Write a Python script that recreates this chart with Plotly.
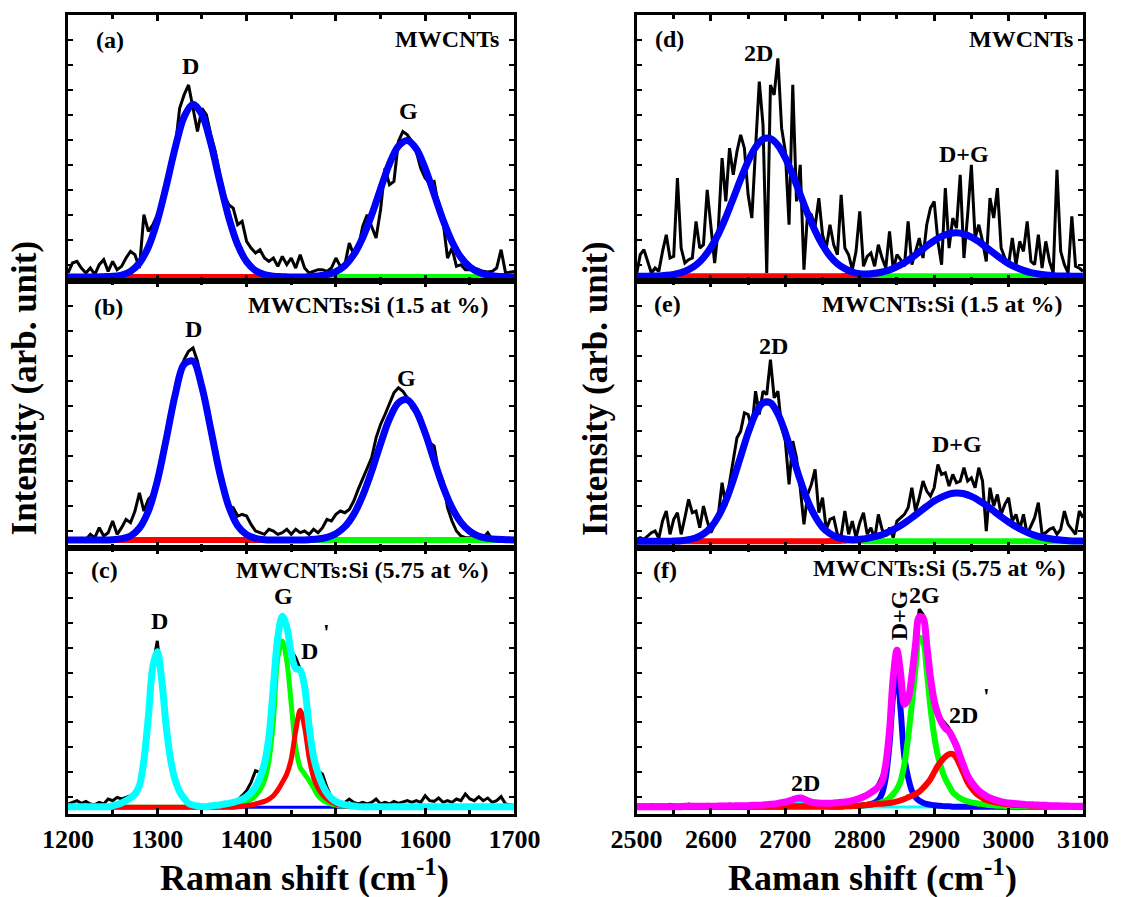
import plotly.graph_objects as go
from plotly.subplots import make_subplots

FONT = "Liberation Serif"

# Wavenumber grids (cm^-1): raw spectra every 5 cm^-1, fitted curves every 10 cm^-1
LOW_START, HIGH_START = 1200, 2500
RAW_STEP, FIT_STEP, FINE_STEP = 5, 10, 5

# ---------------- (a) MWCNTs, D/G region ----------------
a_raw = [25, 55, 60, 40, 25, 40, 20, 50, 65, 30,
         60, 35, 45, 70, 90, 80, 40, 200, 150, 170,
         200, 230, 280, 350, 400, 520, 560, 590, 520, 450,
         520, 500, 440, 390, 320, 260, 230, 220, 170, 180,
         120, 100, 85, 95, 70, 60, 70, 45, 75, 50,
         70, 40, 80, 40, 25, 30, 35, 35, 30, 40,
         70, 45, 50, 115, 80, 100, 165, 200, 165, 130,
         215, 340, 290, 300, 420, 450, 440, 420, 390, 340,
         310, 295, 300, 225, 180, 70, 100, 45, 50, 35,
         35, 40, 35, 30, 28, 30, 40, 95, 25, 28,
         30]
a_fit_d = [13, 13, 13, 13, 14, 15, 19, 30, 55, 103,
           181, 286, 401, 494, 532, 501, 414, 300, 192, 110,
           59, 32, 20, 15, 14, 13, 13, 13, 13, 13,
           13, 13, 13, 13, 13, 13, 13, 13, 13, 13,
           13, 13, 13, 13, 13, 13, 13, 13, 13, 13,
           13]
a_fit_g = [13, 13, 13, 13, 13, 13, 13, 13, 13, 13,
           13, 13, 13, 13, 13, 13, 13, 13, 13, 13,
           13, 13, 13, 13, 13, 13, 13, 14, 16, 20,
           29, 47, 80, 131, 199, 278, 353, 406, 423, 398,
           339, 262, 184, 119, 72, 43, 27, 19, 15, 14,
           13]
a_fit_sum = [13, 13, 13, 13, 14, 15, 19, 30, 55, 103,
             181, 286, 401, 494, 532, 501, 414, 300, 192, 110,
             59, 32, 20, 15, 14, 13, 13, 14, 16, 20,
             29, 47, 80, 131, 199, 278, 353, 406, 423, 398,
             339, 262, 184, 119, 72, 43, 27, 19, 15, 14,
             13]

# ---------------- (b) MWCNTs:Si (1.5 at %), D/G region ----------------
b_raw = [22, 25, 22, 28, 24, 40, 30, 60, 35, 45,
         80, 40, 60, 85, 75, 110, 165, 110, 145, 160,
         210, 265, 330, 400, 460, 520, 565, 590, 600, 560,
         500, 430, 360, 285, 225, 170, 125, 120, 95, 100,
         95, 70, 50, 45, 40, 55, 50, 40, 45, 55,
         40, 55, 45, 50, 40, 55, 45, 60, 85, 80,
         100, 110, 105, 115, 140, 175, 205, 240, 270, 330,
         370, 400, 430, 465, 480, 470, 450, 420, 405, 395,
         345, 315, 305, 230, 200, 120, 80, 50, 35, 30,
         30, 28, 35, 30, 45, 25, 22, 25, 22, 24,
         22]
b_fit_d = [23, 23, 23, 23, 23, 24, 27, 35, 59, 110,
           200, 326, 459, 551, 560, 482, 354, 223, 124, 66,
           39, 28, 24, 23, 23, 23, 23, 23, 23, 23,
           23, 23, 23, 23, 23, 23, 23, 23, 23, 23,
           23, 23, 23, 23, 23, 23, 23, 23, 23, 23,
           23]
b_fit_g = [23, 23, 23, 23, 23, 23, 23, 23, 23, 23,
           23, 23, 23, 23, 23, 23, 23, 23, 23, 23,
           23, 23, 23, 23, 23, 23, 23, 24, 26, 31,
           42, 63, 100, 156, 229, 312, 387, 435, 444, 410,
           344, 262, 183, 120, 76, 49, 34, 28, 25, 24,
           23]
b_fit_sum = [23, 23, 23, 23, 23, 24, 27, 35, 59, 110,
             200, 326, 459, 551, 560, 482, 354, 223, 124, 66,
             39, 28, 24, 23, 23, 23, 23, 24, 26, 31,
             42, 63, 100, 156, 229, 312, 387, 435, 444, 410,
             344, 262, 183, 120, 76, 49, 34, 28, 25, 24,
             23]

# ---------------- (c) MWCNTs:Si (5.75 at %), D/G/D' region (5 cm^-1 fit grid) ----------------
c_raw = [30, 35, 40, 32, 38, 30, 28, 35, 30, 45,
         40, 50, 45, 50, 55, 65, 90, 165, 295, 445,
         520, 400, 260, 160, 100, 70, 55, 35, 30, 25,
         22, 22, 28, 30, 28, 35, 30, 38, 42, 55,
         70, 95, 130, 125, 160, 235, 385, 535, 595, 560,
         490, 470, 435, 385, 265, 175, 130, 120, 80, 50,
         40, 30, 35, 45, 35, 30, 35, 30, 35, 45,
         30, 35, 30, 38, 32, 35, 40, 35, 40, 35,
         55, 40, 38, 48, 35, 40, 35, 45, 40, 60,
         45, 40, 52, 40, 48, 35, 40, 52, 30, 28,
         25]
c_fit_d = [20, 20, 20, 20, 20, 20, 20, 20, 20, 20,
           23, 26, 31, 38, 46, 58, 83, 160, 290, 440,
           485, 400, 260, 160, 100, 65, 45, 30, 25, 22,
           20, 20, 20, 20, 20, 20, 20, 20, 20, 20,
           20, 20, 20, 20, 20, 20, 20, 20, 20, 20,
           20, 20, 20, 20, 20, 20, 20, 20, 20, 20,
           20, 20, 20, 20, 20, 20, 20, 20, 20, 20,
           20, 20, 20, 20, 20, 20, 20, 20, 20, 20,
           20, 20, 20, 20, 20, 20, 20, 20, 20, 20,
           20, 20, 20, 20, 20, 20, 20, 20, 20, 20,
           20]
c_fit_g = [20, 20, 20, 20, 20, 20, 20, 20, 20, 20,
           20, 20, 20, 20, 20, 20, 20, 20, 20, 20,
           20, 20, 20, 20, 20, 20, 20, 20, 20, 20,
           20, 20, 20, 20, 20, 20, 24, 27, 30, 34,
           38, 44, 55, 72, 100, 160, 280, 470, 520, 460,
           330, 200, 140, 120, 100, 78, 55, 42, 35, 30,
           27, 25, 24, 23, 22, 21, 21, 21, 21, 21,
           21, 21, 21, 21, 21, 21, 21, 21, 21, 21,
           21, 21, 21, 21, 21, 21, 21, 21, 21, 21,
           21, 21, 21, 21, 21, 21, 21, 21, 21, 21,
           21]
c_fit_d2 = [20, 20, 20, 20, 20, 20, 20, 20, 20, 20,
            20, 20, 20, 20, 20, 20, 20, 20, 20, 20,
            20, 20, 20, 20, 20, 20, 20, 20, 20, 20,
            20, 20, 20, 20, 20, 20, 20, 20, 22, 23,
            25, 27, 30, 34, 38, 45, 55, 72, 95, 120,
            165, 250, 312, 260, 170, 110, 78, 58, 45, 36,
            30, 27, 25, 24, 23, 22, 22, 22, 22, 22,
            22, 22, 22, 22, 22, 22, 22, 22, 22, 22,
            22, 22, 22, 22, 22, 22, 22, 22, 22, 22,
            22, 22, 22, 22, 22, 22, 22, 22, 22, 22,
            22]
c_fit_sum = [22, 22, 22, 22, 22, 22, 22, 22, 22, 22,
             25, 28, 33, 40, 48, 60, 85, 162, 292, 442,
             487, 402, 262, 162, 102, 67, 47, 32, 27, 24,
             22, 22, 24, 26, 27, 30, 32, 35, 39, 44,
             52, 64, 82, 110, 152, 232, 382, 532, 594, 562,
             482, 437, 432, 382, 262, 172, 122, 87, 62, 47,
             37, 32, 28, 26, 24, 22, 22, 22, 22, 22,
             22, 22, 22, 22, 22, 22, 22, 22, 22, 22,
             22, 22, 22, 22, 22, 22, 22, 22, 22, 22,
             22, 22, 22, 22, 22, 22, 22, 22, 22, 22,
             22]

# ---------------- (d) MWCNTs, 2D / D+G region ----------------
d_raw = [20, 80, 95, 60, 25, 40, 30, 90, 140, 70,
         75, 310, 100, 55, 65, 70, 180, 100, 110, 275,
         170, 55, 160, 370, 240, 400, 320, 390, 440, 400,
         260, 190, 400, 600, 470, 25, 590, 560, 670, 460,
         390, 170, 590, 240, 350, 35, 210, 200, 165, 250,
         140, 100, 170, 110, 80, 260, 100, 80, 35, 90,
         210, 45, 75, 85, 45, 110, 70, 40, 150, 35,
         80, 65, 45, 180, 50, 90, 130, 70, 170, 220,
         240, 120, 50, 280, 100, 190, 160, 320, 70, 200,
         350, 130, 170, 120, 60, 250, 190, 280, 100, 70,
         50, 130, 50, 120, 90, 180, 60, 50, 140, 40,
         120, 60, 25, 335, 90, 50, 25, 195, 45, 40,
         30]
d_fit_2d = [15, 15, 16, 16, 18, 21, 26, 35, 49, 71,
            102, 142, 192, 249, 307, 361, 403, 427, 429, 409,
            371, 319, 261, 203, 152, 109, 76, 53, 37, 27,
            21, 18, 17, 16, 15, 15, 15, 15, 15, 15,
            15, 15, 15, 15, 15, 15, 15, 15, 15, 15,
            15, 15, 15, 15, 15, 15, 15, 15, 15, 15,
            15]
d_fit_dg = [15, 15, 15, 15, 15, 15, 15, 15, 15, 15,
            15, 15, 15, 15, 15, 15, 15, 15, 15, 15,
            15, 15, 15, 15, 15, 15, 15, 15, 16, 16,
            17, 19, 22, 27, 34, 44, 56, 71, 88, 106,
            122, 135, 143, 146, 142, 133, 119, 102, 85, 68,
            53, 42, 33, 26, 22, 19, 17, 16, 16, 15,
            15]
d_fit_sum = [15, 15, 16, 16, 18, 21, 26, 35, 49, 71,
             102, 142, 192, 249, 307, 361, 403, 427, 429, 409,
             371, 319, 261, 203, 152, 109, 76, 53, 38, 28,
             23, 22, 24, 28, 34, 44, 56, 71, 88, 106,
             122, 135, 143, 146, 142, 133, 119, 102, 85, 68,
             53, 42, 33, 26, 22, 19, 17, 16, 16, 15,
             15]

# ---------------- (e) MWCNTs:Si (1.5 at %), 2D / D+G region ----------------
e_raw = [25, 30, 25, 35, 45, 50, 28, 80, 110, 40,
         85, 105, 40, 90, 145, 105, 110, 60, 125, 80,
         45, 70, 100, 195, 125, 195, 270, 330, 350, 405,
         400, 360, 470, 400, 470, 460, 565, 450, 470, 360,
         320, 190, 320, 270, 180, 70, 160, 190, 235, 105,
         150, 55, 85, 90, 40, 35, 110, 40, 80, 30,
         75, 105, 40, 60, 25, 100, 55, 35, 60, 30,
         80, 90, 100, 120, 180, 110, 150, 200, 170, 155,
         180, 250, 220, 225, 185, 220, 195, 200, 240, 200,
         210, 180, 240, 200, 50, 180, 125, 160, 100, 130,
         150, 80, 100, 55, 100, 40, 65, 90, 135, 40,
         45, 55, 60, 40, 55, 110, 70, 55, 40, 110,
         90]
e_fit_2d = [19, 19, 19, 19, 19, 20, 21, 24, 30, 41,
            61, 94, 141, 203, 274, 345, 402, 435, 435, 402,
            345, 274, 203, 141, 94, 61, 41, 30, 24, 21,
            20, 19, 19, 19, 19, 19, 19, 19, 19, 19,
            19, 19, 19, 19, 19, 19, 19, 19, 19, 19,
            19, 19, 19, 19, 19, 19, 19, 19, 19, 19,
            19]
e_fit_dg = [19, 19, 19, 19, 19, 19, 19, 19, 19, 19,
            19, 19, 19, 19, 19, 19, 19, 19, 19, 19,
            19, 19, 19, 19, 19, 19, 20, 20, 21, 22,
            24, 28, 33, 39, 49, 60, 74, 90, 107, 124,
            140, 152, 161, 164, 162, 154, 142, 127, 110, 93,
            77, 63, 51, 41, 34, 29, 25, 23, 21, 20,
            20]
e_fit_sum = [19, 19, 19, 19, 19, 20, 21, 24, 30, 41,
             61, 94, 141, 203, 274, 345, 402, 435, 435, 402,
             345, 274, 203, 141, 94, 61, 42, 31, 26, 24,
             25, 28, 33, 39, 49, 60, 74, 90, 107, 124,
             140, 152, 161, 164, 162, 154, 142, 127, 110, 93,
             77, 63, 51, 41, 34, 29, 25, 23, 21, 20,
             20]

# ---------------- (f) MWCNTs:Si (5.75 at %), 2D / D+G / 2G / 2D' region (5 cm^-1 fit grid) ----------------
f_raw = [26, 24, 27, 25, 28, 24, 26, 27, 25, 29,
         27, 25, 28, 26, 30, 27, 25, 28, 26, 29,
         27, 28, 26, 29, 27, 30, 28, 26, 29, 27,
         28, 30, 28, 29, 30, 31, 30, 32, 33, 35,
         36, 39, 43, 47, 48, 44, 39, 36, 34, 33,
         32, 32, 32, 33, 33, 34, 35, 37, 39, 42,
         46, 51, 57, 64, 74, 92, 117, 152, 250, 420,
         495, 430, 335, 350, 420, 525, 615, 600, 515, 415,
         345, 305, 285, 272, 258, 230, 205, 172, 143, 117,
         97, 83, 71, 62, 54, 48, 44, 40, 37, 35,
         33, 32, 31, 30, 29, 28, 28, 27, 27, 26,
         26, 25, 25, 25, 24, 24, 24, 23, 23, 23,
         23]
f_fit_2d = [21, 21, 21, 21, 21, 21, 21, 21, 21, 21,
            21, 21, 21, 21, 21, 21, 21, 21, 21, 21,
            21, 21, 21, 21, 21, 21, 21, 21, 21, 21,
            21, 21, 21, 21, 21, 21, 21, 21, 21, 21,
            21, 22, 26, 33, 37, 30, 25, 22, 21, 21,
            21, 21, 21, 21, 21, 21, 21, 21, 21, 21,
            21, 21, 21, 21, 21, 21, 21, 21, 21, 21,
            21, 21, 21, 21, 21, 21, 21, 21, 21, 21,
            21, 21, 21, 21, 21, 21, 21, 21, 21, 21,
            21, 21, 21, 21, 21, 21, 21, 21, 21, 21,
            21, 21, 21, 21, 21, 21, 21, 21, 21, 21,
            21, 21, 21, 21, 21, 21, 21, 21, 21, 21,
            21]
f_fit_dg = [22, 22, 22, 22, 22, 22, 22, 22, 22, 22,
            22, 22, 22, 22, 22, 22, 22, 22, 22, 22,
            22, 22, 22, 22, 22, 22, 22, 22, 22, 22,
            22, 22, 22, 22, 22, 22, 22, 22, 22, 22,
            22, 22, 22, 22, 22, 22, 22, 22, 22, 22,
            22, 22, 22, 22, 22, 22, 23, 23, 24, 24,
            25, 26, 28, 30, 34, 42, 62, 110, 210, 360,
            430, 310, 170, 110, 70, 50, 40, 34, 30, 28,
            26, 25, 24, 23, 23, 22, 22, 22, 22, 22,
            22, 22, 22, 22, 22, 22, 22, 22, 22, 22,
            22, 22, 22, 22, 22, 22, 22, 22, 22, 22,
            22, 22, 22, 22, 22, 22, 22, 22, 22, 22,
            22]
f_fit_2g = [22, 22, 22, 22, 22, 22, 22, 22, 22, 22,
            22, 22, 22, 22, 22, 22, 22, 22, 22, 22,
            22, 22, 22, 22, 22, 22, 22, 22, 22, 22,
            22, 22, 22, 22, 22, 22, 22, 22, 22, 22,
            22, 22, 22, 22, 22, 22, 22, 22, 22, 22,
            22, 22, 23, 23, 23, 23, 24, 24, 24, 25,
            25, 26, 27, 28, 30, 32, 36, 40, 48, 60,
            75, 100, 150, 230, 330, 440, 530, 520, 430, 320,
            235, 175, 135, 105, 85, 65, 55, 47, 42, 38,
            35, 33, 31, 30, 28, 27, 26, 25, 25, 24,
            24, 23, 23, 23, 23, 23, 23, 23, 23, 23,
            23, 22, 22, 22, 22, 22, 22, 22, 22, 22,
            22]
f_fit_2d2 = [22, 22, 22, 22, 22, 22, 22, 22, 22, 22,
             22, 22, 22, 22, 22, 22, 22, 22, 22, 22,
             22, 22, 22, 22, 22, 22, 22, 22, 22, 22,
             22, 22, 22, 22, 22, 22, 22, 22, 22, 22,
             22, 23, 23, 23, 23, 23, 23, 23, 23, 23,
             23, 23, 23, 23, 23, 23, 24, 24, 24, 24,
             25, 26, 27, 28, 30, 31, 31, 32, 33, 35,
             38, 41, 45, 50, 55, 60, 67, 78, 90, 105,
             125, 145, 160, 172, 180, 180, 168, 145, 120, 95,
             78, 65, 55, 48, 42, 39, 36, 34, 32, 30,
             29, 28, 27, 27, 26, 26, 25, 25, 25, 24,
             24, 23, 23, 23, 23, 23, 23, 23, 23, 23,
             23]
f_fit_sum = [22, 22, 22, 22, 22, 22, 22, 22, 22, 22,
             22, 22, 22, 23, 23, 23, 23, 23, 23, 23,
             23, 23, 24, 24, 24, 24, 24, 25, 25, 25,
             25, 26, 26, 26, 27, 28, 29, 30, 32, 34,
             36, 39, 43, 47, 48, 45, 40, 36, 34, 33,
             32, 32, 32, 33, 34, 35, 36, 38, 40, 43,
             47, 52, 57, 64, 72, 82, 98, 150, 250, 410,
             492, 420, 330, 346, 415, 510, 592, 590, 508, 410,
             340, 300, 275, 258, 248, 228, 204, 172, 142, 115,
             96, 82, 70, 61, 54, 48, 44, 40, 37, 35,
             33, 32, 31, 30, 29, 28, 28, 27, 27, 26,
             26, 25, 25, 25, 24, 24, 24, 23, 23, 23,
             23]

BLUE, RED, GREEN, CYAN, MAGENTA = "#0000FF", "#FF0000", "#00FF00", "#00FFFF", "#FF00FF"

fig = make_subplots(rows=3, cols=2, horizontal_spacing=0.1202, vertical_spacing=0)


def add_curve(y, start, step, color, width, row, col, smooth=True):
    fig.add_trace(
        go.Scatter(
            y=y, x0=start, dx=step, mode="lines",
            line=dict(color=color, width=width,
                      shape="spline" if smooth else "linear", smoothing=0.9),
            hoverinfo="skip", showlegend=False,
        ),
        row=row, col=col,
    )


# (a)
add_curve(a_raw, LOW_START, RAW_STEP, "black", 3, 1, 1, smooth=False)
add_curve(a_fit_d, LOW_START, FIT_STEP, GREEN, 6, 1, 1)
add_curve(a_fit_g, LOW_START, FIT_STEP, RED, 6, 1, 1)
add_curve(a_fit_sum, LOW_START, FIT_STEP, BLUE, 7, 1, 1)
# (b)
add_curve(b_raw, LOW_START, RAW_STEP, "black", 3, 2, 1, smooth=False)
add_curve(b_fit_d, LOW_START, FIT_STEP, GREEN, 6, 2, 1)
add_curve(b_fit_g, LOW_START, FIT_STEP, RED, 6, 2, 1)
add_curve(b_fit_sum, LOW_START, FIT_STEP, BLUE, 7, 2, 1)
# (c)
add_curve(c_raw, LOW_START, RAW_STEP, "black", 3, 3, 1, smooth=False)
add_curve(c_fit_d, LOW_START, FINE_STEP, BLUE, 3, 3, 1)
add_curve(c_fit_g, LOW_START, FINE_STEP, GREEN, 5, 3, 1)
add_curve(c_fit_d2, LOW_START, FINE_STEP, RED, 5, 3, 1)
add_curve(c_fit_sum, LOW_START, FINE_STEP, CYAN, 7, 3, 1)
# (d)
add_curve(d_raw, HIGH_START, RAW_STEP, "black", 3, 1, 2, smooth=False)
add_curve(d_fit_2d, HIGH_START, FIT_STEP, GREEN, 6, 1, 2)
add_curve(d_fit_dg, HIGH_START, FIT_STEP, RED, 6, 1, 2)
add_curve(d_fit_sum, HIGH_START, FIT_STEP, BLUE, 7, 1, 2)
# (e)
add_curve(e_raw, HIGH_START, RAW_STEP, "black", 3, 2, 2, smooth=False)
add_curve(e_fit_2d, HIGH_START, FIT_STEP, GREEN, 6, 2, 2)
add_curve(e_fit_dg, HIGH_START, FIT_STEP, RED, 6, 2, 2)
add_curve(e_fit_sum, HIGH_START, FIT_STEP, BLUE, 7, 2, 2)
# (f)
add_curve(f_raw, HIGH_START, RAW_STEP, "black", 3, 3, 2, smooth=False)
add_curve(f_fit_2d, HIGH_START, FINE_STEP, CYAN, 3, 3, 2)
add_curve(f_fit_dg, HIGH_START, FINE_STEP, BLUE, 6, 3, 2)
add_curve(f_fit_2g, HIGH_START, FINE_STEP, GREEN, 6, 3, 2)
add_curve(f_fit_2d2, HIGH_START, FINE_STEP, RED, 6, 3, 2)
add_curve(f_fit_sum, HIGH_START, FINE_STEP, MAGENTA, 7, 3, 2)

tick_font = dict(family=FONT, size=26, color="black", weight="bold")
for row in (1, 2, 3):
    for col, rng in ((1, [1200, 1700]), (2, [2500, 3100])):
        fig.update_xaxes(
            range=rng, dtick=100, showline=True, linewidth=3, linecolor="black",
            mirror="ticks", ticks="inside", ticklen=6, tickwidth=2.5, tickcolor="black",
            minor=dict(dtick=50, ticks="inside", ticklen=4, tickwidth=2.5, tickcolor="black"),
            showgrid=False, zeroline=False, showticklabels=(row == 3),
            tickfont=tick_font, row=row, col=col,
        )
        fig.update_yaxes(
            range=[0, 800], tick0=50, dtick=75, showline=True, linewidth=3,
            linecolor="black", mirror="ticks", ticks="inside", ticklen=5,
            tickwidth=2, tickcolor="black", showgrid=False, zeroline=False,
            showticklabels=False, row=row, col=col,
        )

annotations = []


def label(text, x, y, xref, yref, size=24, xanchor="center", angle=0):
    annotations.append(dict(
        text=text, x=x, y=y, xref=xref, yref=yref, xanchor=xanchor,
        yanchor="middle", showarrow=False, textangle=angle,
        font=dict(family=FONT, size=size, color="black", weight="bold"),
    ))


# (a)
label("(a)", 1246.6, 726, "x", "y")
label("MWCNTs", 1684.5, 729, "x", "y", xanchor="right")
label("D", 1337.5, 648, "x", "y")
label("G", 1581, 513, "x", "y")
# (b)
label("(b)", 1245.5, 723, "x3", "y3")
label("MWCNTs:Si (1.5 at %)", 1673, 729, "x3", "y3", xanchor="right")
label("D", 1341, 657, "x3", "y3")
label("G", 1579, 510, "x3", "y3")
# (c)
label("(c)", 1241, 732, "x5", "y5")
label("MWCNTs:Si (5.75 at %)", 1673, 732, "x5", "y5", xanchor="right")
label("D", 1303, 579, "x5", "y5")
label("G", 1441.7, 654, "x5", "y5")
label("D", 1470.5, 489, "x5", "y5")
label("'", 1483.5, 546, "x5", "y5", xanchor="left")
# (d)
label("(d)", 2544, 729, "x2", "y2")
label("MWCNTs", 3089.3, 729, "x2", "y2", xanchor="right")
label("2D", 2664, 687, "x2", "y2")
label("D+G", 2939.6, 381, "x2", "y2")
# (e)
label("(e)", 2541.4, 732, "x4", "y4")
label("MWCNTs:Si (1.5 at %)", 3074.6, 732, "x4", "y4", xanchor="right")
label("2D", 2684.4, 606, "x4", "y4")
label("D+G", 2930.3, 312, "x4", "y4")
# (f)
label("(f)", 2538.8, 732, "x6", "y6")
label("MWCNTs:Si (5.75 at %)", 3078.6, 738, "x6", "y6", xanchor="right")
label("D+G", 2852.8, 597, "x6", "y6", angle=-90)
label("2G", 2887.5, 657, "x6", "y6")
label("2D", 2939.6, 297, "x6", "y6")
label("'", 2963.5, 354, "x6", "y6", xanchor="left")
label("2D", 2727, 93, "x6", "y6")

# Axis titles
label("Raman shift (cm<sup>-1</sup>)", 0.2327, -0.077, "paper", "paper", size=36)
label("Raman shift (cm<sup>-1</sup>)", 0.7928, -0.077, "paper", "paper", size=36)
label("Intensity (arb. unit)", -0.043, 0.533, "paper", "paper", size=35, angle=-90)
label("Intensity (arb. unit)", 0.519, 0.533, "paper", "paper", size=35, angle=-90)

fig.update_layout(
    width=1121, height=897,
    margin=dict(l=68, r=30, t=15, b=83),
    paper_bgcolor="white", plot_bgcolor="white",
    showlegend=False, annotations=annotations,
    font=dict(family=FONT, color="black"),
)

fig.write_html("out.html")
